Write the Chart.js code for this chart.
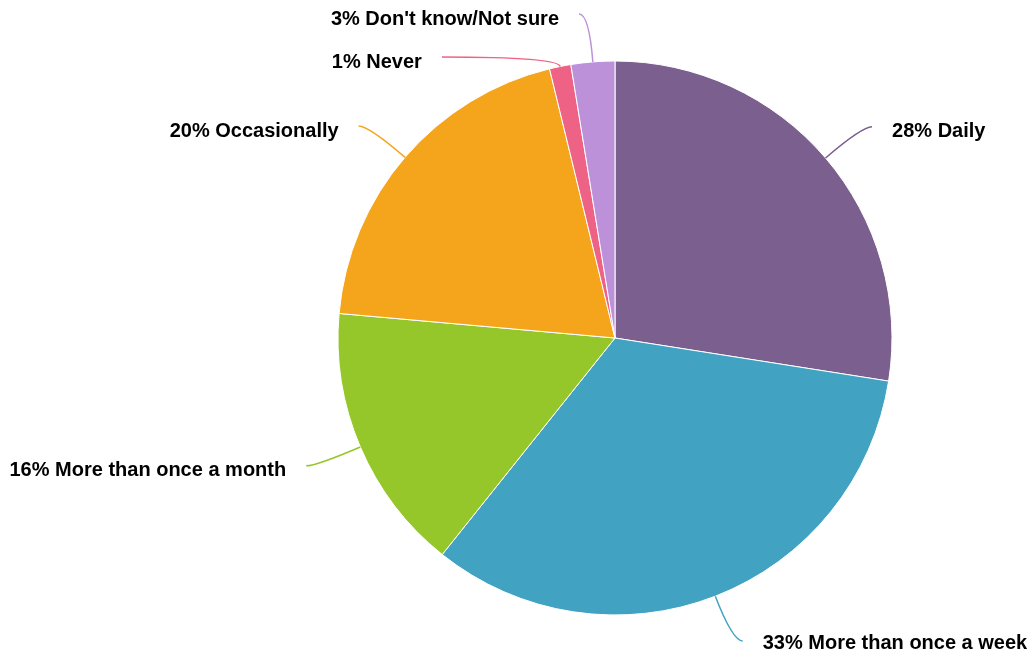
<!DOCTYPE html>
<html>
<head>
<meta charset="utf-8">
<script src="https://cdn.jsdelivr.net/npm/chart.js@4/dist/chart.umd.min.js"></script>
<style>
  html, body { margin: 0; padding: 0; background: #fff; }
  #wrap { width: 1032px; height: 658px; }
</style>
</head>
<body>
<div id="wrap"><canvas id="pie" width="1032" height="658"></canvas></div>
<script>
// Frequency answers (clockwise from 12 o'clock)
const categories = ['Daily', 'More than once a week', 'More than once a month', 'Occasionally', 'Never', "Don't know/Not sure"];
const shares = [27.5, 33.25, 15.7, 19.8, 1.25, 2.55];
const sliceColors = ['#7b5f8e', '#41a2c2', '#96c72a', '#f4a51b', '#ee6385', '#bd91d9'];

// ========== OUTSIDE LABELS WITH LEADER LINES ==========
const outLabels = {
    id: 'outLabels',
    afterDatasetsDraw(chart) {
        const ctx = chart.ctx;
        const meta = chart.getDatasetMeta(0);
        const items = meta.data.map((arc, i) => {
            const p = arc.getProps(['x', 'y', 'startAngle', 'endAngle', 'outerRadius'], true);
            const mid = (p.startAngle + p.endAngle) / 2;
            const cos = Math.cos(mid), sin = Math.sin(mid);
            const p0 = { x: p.x + cos * p.outerRadius, y: p.y + sin * p.outerRadius };
            const ey = p.y + sin * (p.outerRadius + 48);
            return { i, cx: p.x, cy: p.y, r: p.outerRadius, cos, sin, p0, ey, natural: ey, right: cos >= 0 };
        });

        // push labels apart on each side
        [true, false].forEach(side => {
            const list = items.filter(d => d.right === side).sort((a, b) => a.ey - b.ey);
            for (let k = 1; k < list.length; k++) {
                if (list[k].ey < list[k - 1].ey + 43) list[k].ey = list[k - 1].ey + 43;
            }
        });

        ctx.save();
        ctx.font = 'bold 20px "Liberation Sans", Arial, sans-serif';
        ctx.textBaseline = 'middle';
        items.forEach(d => {
            d.ey = Math.min(d.ey, chart.height - 17);
            const dir = d.right ? 1 : -1;
            let c;
            if (Math.abs(d.sin) > 0.05) {
                const t = (d.ey - d.p0.y) / d.sin;
                c = { x: d.p0.x + d.cos * t, y: d.ey };
            } else {
                c = { x: d.p0.x + dir * 20, y: d.ey };
            }
            let ex;
            if (d.ey - d.natural > 2) {
                const dy = d.ey - d.cy;
                const R2 = d.r + 53;
                ex = d.cx + dir * Math.sqrt(Math.max(R2 * R2 - dy * dy, 0));
            } else {
                ex = c.x + dir * 10;
            }

            ctx.strokeStyle = sliceColors[d.i];
            ctx.lineWidth = 1.5;
            ctx.beginPath();
            ctx.moveTo(d.p0.x, d.p0.y);
            ctx.quadraticCurveTo(c.x, c.y, ex, d.ey);
            ctx.stroke();

            ctx.fillStyle = '#000';
            ctx.textAlign = d.right ? 'left' : 'right';
            const txt = Math.round(shares[d.i]) + '% ' + categories[d.i];
            ctx.fillText(txt, ex + dir * 20, Math.min(d.ey + 5, chart.height - 15));
        });
        ctx.restore();
    }
};

// ========== PIE ==========
function createPie() {
    const ctx = document.getElementById('pie');
    new Chart(ctx, {
        type: 'pie',
        data: {
            labels: categories,
            datasets: [{
                data: shares,
                backgroundColor: sliceColors,
                borderColor: '#ffffff',
                borderWidth: 1,
                hoverOffset: 0
            }]
        },
        options: {
            responsive: false,
            animation: false,
            radius: 277,
            layout: { padding: { left: 250, right: 52, top: 60, bottom: 42 } },
            plugins: {
                legend: { display: false },
                tooltip: { enabled: false }
            }
        },
        plugins: [outLabels]
    });
}

createPie();
</script>
</body>
</html>
